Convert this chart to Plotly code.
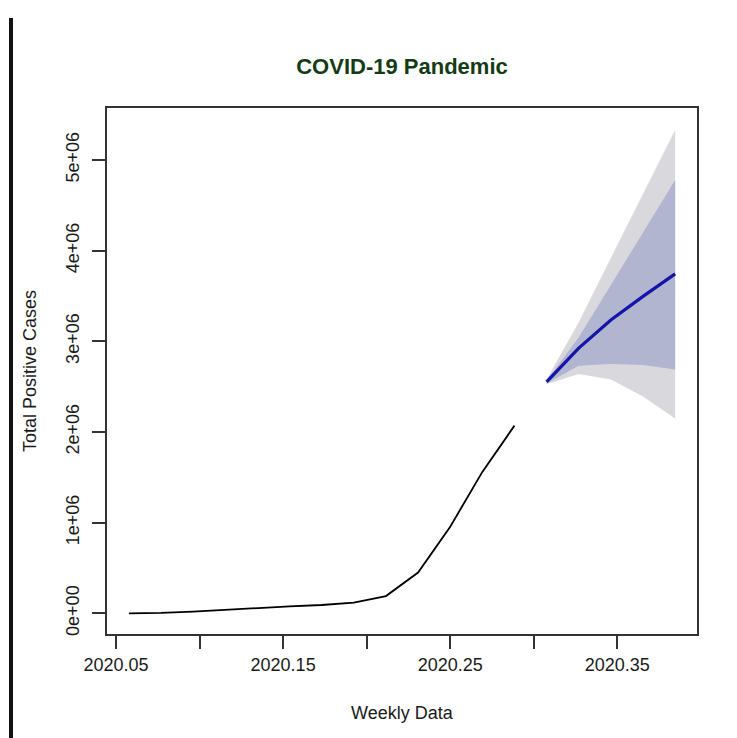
import plotly.graph_objects as go

# Observed weekly totals (time index in years, weekly frequency 52)
obs_weeks = [3, 4, 5, 6, 7, 8, 9, 10, 11, 12, 13, 14, 15]
obs_cases = [555, 5000, 18000, 40000, 58000, 77000, 92000, 118000, 190000,
             450000, 955000, 1560000, 2070000]

# Forecast horizon with point forecasts and prediction intervals
fc_weeks = [16, 17, 18, 19, 20]
fc_mean = [2552000, 2925000, 3235000, 3495000, 3743000]
lo80 = [2535000, 2730000, 2750000, 2740000, 2690000]
hi80 = [2569000, 3045000, 3620000, 4200000, 4780000]
lo95 = [2526000, 2640000, 2580000, 2390000, 2150000]
hi95 = [2578000, 3210000, 3920000, 4630000, 5330000]

x_ticks = [2020.05, 2020.10, 2020.15, 2020.20, 2020.25, 2020.30, 2020.35]
x_ticktext = ["2020.05", "", "2020.15", "", "2020.25", "", "2020.35"]
y_ticks = [0, 1e6, 2e6, 3e6, 4e6, 5e6]
y_ticktext = ["0e+00", "1e+06", "2e+06", "3e+06", "4e+06", "5e+06"]

t_obs = [2020 + w / 52 for w in obs_weeks]
t_fc = [2020 + w / 52 for w in fc_weeks]

FONT = "Liberation Sans, Arial, sans-serif"
AXIS_COL = "#333333"
TEXT_COL = "#1a1a1a"

fig = go.Figure()

# 95% interval band
fig.add_trace(go.Scatter(
    x=t_fc + t_fc[::-1], y=hi95 + lo95[::-1],
    fill="toself", fillcolor="#d9d9dd", line=dict(width=0),
    mode="lines", hoverinfo="skip", showlegend=False))
# 80% interval band
fig.add_trace(go.Scatter(
    x=t_fc + t_fc[::-1], y=hi80 + lo80[::-1],
    fill="toself", fillcolor="#b1b5cf", line=dict(width=0),
    mode="lines", hoverinfo="skip", showlegend=False))
# Point forecast
fig.add_trace(go.Scatter(
    x=t_fc, y=fc_mean, mode="lines",
    line=dict(color="#1414a8", width=3.2), showlegend=False))
# Observed series
fig.add_trace(go.Scatter(
    x=t_obs, y=obs_cases, mode="lines",
    line=dict(color="#000000", width=1.8), showlegend=False))

fig.update_layout(
    width=737, height=738,
    margin=dict(l=107, r=40, t=108, b=104),
    paper_bgcolor="white", plot_bgcolor="white",
    font=dict(family=FONT, size=18, color=TEXT_COL),
    title=dict(text="<b>COVID-19 Pandemic</b>", x=0.5, xref="paper",
               xanchor="center", y=1 - 66 / 738, yanchor="middle",
               font=dict(family=FONT, size=22, color="#143c14")),
    showlegend=False,
)

fig.update_xaxes(
    range=[2020.0446, 2020.3977], tickvals=x_ticks, ticktext=x_ticktext,
    ticks="outside", ticklen=13, tickwidth=1.5, tickcolor=AXIS_COL,
    showline=True, linecolor=AXIS_COL, linewidth=2, mirror=True,
    showgrid=False, zeroline=False,
    tickfont=dict(family=FONT, size=18, color=TEXT_COL),
)
fig.update_yaxes(
    range=[-228000, 5573000], tickvals=y_ticks, ticktext=y_ticktext,
    tickangle=-90, ticks="outside", ticklen=13, tickwidth=1.5,
    tickcolor=AXIS_COL, showline=True, linecolor=AXIS_COL, linewidth=2,
    mirror=True, showgrid=False, zeroline=False, ticklabelstandoff=6,
    tickfont=dict(family=FONT, size=18, color=TEXT_COL),
)

# Axis titles
fig.add_annotation(text="Weekly Data", xref="paper", yref="paper",
                   x=0.5, y=0, yshift=-(713 - 634), xanchor="center",
                   yanchor="middle", showarrow=False,
                   font=dict(family=FONT, size=18, color=TEXT_COL))
fig.add_annotation(text="Total Positive Cases", xref="paper", yref="paper",
                   x=0, y=0.5, xshift=-(107 - 30), textangle=-90,
                   xanchor="center", yanchor="middle", showarrow=False,
                   font=dict(family=FONT, size=18, color=TEXT_COL))

# Page rule down the left margin
fig.add_shape(type="rect", xref="paper", yref="paper",
              x0=(9 - 107) / 590, x1=(13 - 107) / 590,
              y0=(634 - 738) / 526, y1=(634 - 18) / 526,
              fillcolor="#111111", line=dict(width=0), layer="above")

fig.write_html("out.html")
